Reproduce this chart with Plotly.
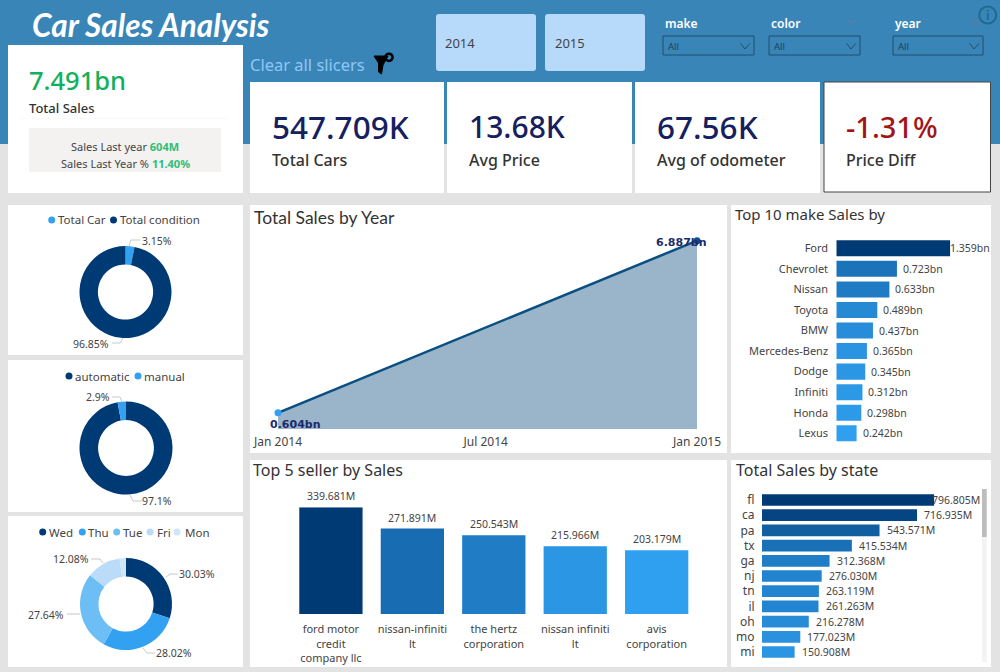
#!/usr/bin/env python3
"""Car Sales Analysis dashboard, drawn as one Plotly figure on a pixel grid."""

import plotly.graph_objects as go

W, H = 1000, 672

# ─── Data ─────────────────────────────────────────────
condition_labels = ["Total Car", "Total condition"]
condition_values = [3.15, 96.85]
transmission_labels = ["automatic", "manual"]
transmission_values = [97.1, 2.9]
weekday_labels = ["Wed", "Thu", "Tue", "Fri", "Mon"]
weekday_values = [30.03, 28.02, 27.64, 12.08, 2.23]

year_dates = ["2014-01-01", "2015-01-01"]
year_sales = [0.604, 6.887]
year_ticks = ["2014-01-01", "2014-07-01", "2015-01-01"]
year_tick_labels = ["Jan 2014", "Jul 2014", "Jan 2015"]

make_names = ["Ford", "Chevrolet", "Nissan", "Toyota", "BMW",
              "Mercedes-Benz", "Dodge", "Infiniti", "Honda", "Lexus"]
make_sales = [1.359, 0.723, 0.633, 0.489, 0.437, 0.365, 0.345, 0.312, 0.298, 0.242]

seller_names = ["ford motor<br>credit<br>company llc", "nissan-infiniti<br>lt",
                "the hertz<br>corporation", "nissan infiniti<br>lt", "avis<br>corporation"]
seller_sales = [339.681, 271.891, 250.543, 215.966, 203.179]

state_names = ["fl", "ca", "pa", "tx", "ga", "nj", "tn", "il", "oh", "mo", "mi"]
state_sales = [796.805, 716.935, 543.571, 415.534, 312.368, 276.030,
               263.119, 261.263, 216.278, 177.023, 150.908]

# ─── Colours / fonts ──────────────────────────────────
BLUE_HEADER = "#3A85B7"
PAGE = "#E3E3E3"
DARK = "#003A75"
MID = "#33A1F2"
NAVY = "#15205E"
GREEN = "#12B05C"
TEXT = "#444444"
SANS = "Noto Sans"
TITLE = "Lato"
RAMP = [[0, "#2F9FEF"], [1, DARK]]

shapes = []
annotations = []


def px(x):
    return x / W


def py(y):
    return 1 - y / H


def rect(x0, y0, x1, y1, fill, line=None, width=1, layer="below"):
    shapes.append(dict(type="rect", xref="paper", yref="paper", layer=layer,
                       x0=px(x0), x1=px(x1), y0=py(y0), y1=py(y1), fillcolor=fill,
                       line=dict(color=line or fill, width=width if line else 0)))


def round_rect(x0, y0, x1, y1, r, fill):
    # paper coordinates run bottom-up, so the path is flipped through py()
    p = (f"M{px(x0 + r)},{py(y0)} L{px(x1 - r)},{py(y0)} Q{px(x1)},{py(y0)} {px(x1)},{py(y0 + r)} "
         f"L{px(x1)},{py(y1 - r)} Q{px(x1)},{py(y1)} {px(x1 - r)},{py(y1)} "
         f"L{px(x0 + r)},{py(y1)} Q{px(x0)},{py(y1)} {px(x0)},{py(y1 - r)} "
         f"L{px(x0)},{py(y0 + r)} Q{px(x0)},{py(y0)} {px(x0 + r)},{py(y0)} Z")
    shapes.append(dict(type="path", xref="paper", yref="paper", layer="below", path=p,
                       fillcolor=fill, line=dict(width=0)))


def poly(points, color, width=1, fill=None, close=False):
    p = "M" + " L".join(f"{px(x)},{py(y)}" for x, y in points) + (" Z" if close else "")
    shapes.append(dict(type="path", xref="paper", yref="paper", layer="above", path=p,
                       fillcolor=fill or "rgba(0,0,0,0)", line=dict(color=color, width=width)))


def dot(x, y, r, fill, line=None, width=0):
    shapes.append(dict(type="circle", xref="paper", yref="paper", layer="above",
                       x0=px(x - r), x1=px(x + r), y0=py(y - r), y1=py(y + r),
                       fillcolor=fill, line=dict(color=line or fill, width=width)))


def label(x, y, text, size=11, color=TEXT, anchor="left", family=SANS, weight=None, style=None):
    font = dict(size=size, color=color, family=family)
    if weight:
        font["weight"] = weight
    if style:
        font["style"] = style
    annotations.append(dict(xref="paper", yref="paper", x=px(x), y=py(y), text=text,
                            xanchor=anchor, yanchor="middle", showarrow=False,
                            borderpad=0, borderwidth=0, font=font))


def domain_x(x0, x1):
    return [px(x0), px(x1)]


def domain_y(top, bottom):
    return [py(bottom), py(top)]


# ─── Page furniture ───────────────────────────────────
rect(0, 0, W, 144, BLUE_HEADER)
rect(8, 45, 243, 193, "white")
rect(250, 82, 444, 193, "white")
rect(447, 82, 632, 193, "white")
rect(635, 82, 820, 193, "white")
rect(824, 82, 990.5, 192, "white", line="#444444", width=1)
rect(29, 128, 221, 172, "#F3F2F1")
rect(20, 118.5, 228, 119, "#F4F4F4")

for x0, y0, x1, y1 in [(8, 205, 243, 355), (8, 360, 243, 512), (8, 516, 243, 667),
                       (250, 205, 727, 453), (250, 460, 727, 667),
                       (731, 205, 991, 453), (731, 460, 991, 667)]:
    rect(x0, y0, x1, y1, "white")

round_rect(436, 14, 536, 71, 3, "#B8DAFA")
round_rect(545, 14, 645, 71, 3, "#B8DAFA")
label(445, 43, "2014", 13, "#444444")
label(555, 43, "2015", 13, "#444444")

label(32, 25, "Car Sales Analysis", 31.5, "white", family=TITLE, weight=700, style="italic")
label(250, 64, "Clear all slicers", 16.5, "#8FC7F5")
poly([(374, 56), (388, 56), (383, 65), (381.5, 74), (378.5, 72), (378.5, 63)], "black", 1, "black", True)
dot(389, 57.3, 3.6, "rgba(0,0,0,0)", "black", 2.5)

dot(987.7, 15, 8.5, "rgba(0,0,0,0)", "#1E6A94", 2)
label(987.7, 15, "i", 12, "#1E6A94", "center", weight=700)

for name, x0, x1 in [("make", 663, 754), ("color", 769, 860), ("year", 893, 983)]:
    label(x0 + 2, 23.5, name, 12, "white", weight=600)
    rect(x0, 36, x1, 55, "rgba(0,0,0,0)", line="#1F4F6E", width=1)
    label(x0 + 5, 46.5, "All", 9.5, "#1F3F5E")
    poly([(x1 - 13.5, 43.3), (x1 - 9, 49), (x1 - 4, 43.3)], "#1F4F6E", 1)
poly([(848, 20), (852, 23.5), (856, 20)], "#6A7F94", 1)
poly([(972, 20), (975.5, 23.5), (979, 20)], "#7A7288", 1)

# ─── KPI cards ────────────────────────────────────────
label(29, 80, "7.491bn", 25.5, GREEN, weight=500)
label(29, 108, "Total Sales", 13, "#333333", weight=500)
label(125, 146, "Sales Last year <b style='color:#2CBF78'>604M</b>", 11, TEXT, "center")
label(125, 163, "Sales Last Year % <b style='color:#2CBF78'>11.40%</b>", 11, TEXT, "center")
for x, value, name, colour, size in [(272, "547.709K", "Total Cars", NAVY, 31.5),
                                     (469, "13.68K", "Avg Price", NAVY, 30),
                                     (657, "67.56K", "Avg of odometer", NAVY, 31.5),
                                     (846, "-1.31%", "Price Diff", "#A31515", 29)]:
    label(x, 126.5, value, size, colour, weight=500)
    label(x, 160, name, 16, "#333333", weight=500)

# ─── Panel titles ─────────────────────────────────────
label(254, 217, "Total Sales by Year", 17.5, "#333333", family=TITLE)
label(735, 214, "Top 10 make Sales by", 15, "#333333")
label(253, 470, "Top 5 seller by Sales", 16, "#333333")
label(736, 470, "Total Sales by state", 16, "#333333")

fig = go.Figure()


# ─── Donuts ───────────────────────────────────────────
def donut(labels, values, colours, cx, cy, r):
    fig.add_trace(go.Pie(labels=labels, values=values, hole=0.6, sort=False,
                         direction="clockwise", rotation=0, textinfo="none",
                         marker=dict(colors=colours, line=dict(width=0)),
                         domain=dict(x=domain_x(cx - r, cx + r), y=domain_y(cy - r, cy + r)),
                         showlegend=False))


donut(condition_labels, condition_values, [MID, DARK], 125.5, 292, 46)
donut(transmission_labels, transmission_values, [DARK, MID], 126, 448, 46.5)
donut(weekday_labels, weekday_values, [DARK, MID, "#6CBEF5", "#BBDCF8", "#CFE6F8"], 126, 604, 46)

# hand legends, the library one can't sit inside a card per pie
for x, y, colour, x_text, text in [
    (51.7, 220, MID, 58, condition_labels[0]), (113.5, 220, DARK, 120, condition_labels[1]),
    (69, 376, DARK, 75, transmission_labels[0]), (138, 376, MID, 144, transmission_labels[1]),
    (42.7, 532, DARK, 49, weekday_labels[0]), (82.3, 532, MID, 88, weekday_labels[1]),
    (116.7, 532, "#6CBEF5", 123, weekday_labels[2]), (150, 532, "#BBDCF8", 157, weekday_labels[3]),
    (177, 532, "#CFE6F8", 185, weekday_labels[4]),
]:
    dot(x, y, 3.5, colour)
    label(x_text, y, text, 11.5)

LEADER = "#C8C8C8"
for x, y, text, pts in [
    (157, 241, "3.15%", [(129, 246), (131, 240), (140, 240)]),
    (91, 344, "96.85%", [(112, 343), (120, 343), (123, 338)]),
    (98, 397, "2.9%", [(112, 397), (120, 397), (122, 402)]),
    (157, 501, "97.1%", [(130, 495), (133, 501), (142, 501)]),
    (197, 574, "30.03%", [(166, 577), (170, 574), (178, 574)]),
    (174, 653, "28.02%", [(143, 648), (147, 653), (155, 653)]),
    (46, 615, "27.64%", [(67, 614), (80, 614)]),
    (71, 559, "12.08%", [(91, 559), (100, 559), (103, 563)]),
]:
    label(x, y, text, 10.5, TEXT, "center")
    poly(pts, LEADER, 1)

# ─── Total Sales by Year ──────────────────────────────
fig.add_trace(go.Scatter(x=year_dates, y=year_sales, mode="lines+markers", fill="tozeroy",
                         fillcolor="rgba(2,68,120,0.4)", line=dict(color="#0B4F80", width=2.5),
                         marker=dict(color=[MID, "#0F4C8C"], size=7), cliponaxis=False,
                         showlegend=False, xaxis="x", yaxis="y"))
for date, value, dx, dy in zip(year_dates, year_sales, [17, -16], [-12, -2]):
    annotations.append(dict(xref="x", yref="y", x=date, y=value, text=f"{value:.3f}bn",
                            xshift=dx, yshift=dy, showarrow=False,
                            font=dict(size=11, color="#1C2A6B", family="DejaVu Sans", weight=700)))


# ─── Bars ─────────────────────────────────────────────
def hbars(names, values, axis, unit_fmt, x0, x1, top, bottom, cmin, shifts, gap, tick_size, tick_len):
    fig.add_trace(go.Bar(y=names, x=values, orientation="h", width=1 - gap,
                         marker=dict(color=values, colorscale=RAMP, cmin=cmin, cmax=max(values),
                                     line=dict(width=0)),
                         cliponaxis=False, showlegend=False,
                         xaxis=f"x{axis}", yaxis=f"y{axis}"))
    fig.update_layout({
        f"xaxis{axis}": dict(domain=domain_x(x0, x1), range=[0, max(values)], anchor=f"y{axis}",
                             visible=False, automargin=False),
        f"yaxis{axis}": dict(domain=domain_y(top, bottom), anchor=f"x{axis}", type="category",
                             range=[len(names) - 0.5, -0.5], showgrid=False, zeroline=False,
                             showline=False, ticks="outside", ticklen=tick_len, automargin=False,
                             tickcolor="rgba(0,0,0,0)",
                             tickfont=dict(size=tick_size, color=TEXT, family=SANS)),
    })
    for name, value, shift in zip(names, values, shifts):
        annotations.append(dict(xref=f"x{axis}", yref=f"y{axis}", x=value, y=name,
                                text=unit_fmt.format(value), xanchor="left", xshift=shift,
                                showarrow=False, font=dict(size=10.5, color=TEXT, family=SANS)))


hbars(make_names, make_sales, 2, "{:.3f}bn", 836.3, 950.3, 238, 443.6, 0.242,
      [-2] + [4] * 9, 0.22, 11, 5)
hbars(state_names, state_sales, 3, "{:.3f}M", 762, 934.3, 492.4, 659.6, 80,
      [-4] + [5] * 10, 0.23, 12, 4)

fig.add_trace(go.Bar(x=seller_names, y=seller_sales, width=0.777,
                     marker=dict(color=seller_sales, colorscale=RAMP, line=dict(width=0)),
                     cliponaxis=False, showlegend=False, xaxis="x4", yaxis="y4"))
for name, value in zip(seller_names, seller_sales):
    annotations.append(dict(xref="x4", yref="y4", x=name, y=value, text=f"{value:.3f}M",
                            yanchor="middle", yshift=11, showarrow=False,
                            font=dict(size=10.5, color=TEXT, family=SANS)))

# state list scrollbar
rect(982, 489, 986.7, 662, "#F3F3F3", layer="above")
rect(982, 489, 986.7, 537, "#BDBDBD", layer="above")

fig.update_layout(
    template="none",
    width=W, height=H, margin=dict(l=0, r=0, t=0, b=0, pad=0), autosize=False,
    paper_bgcolor=PAGE, plot_bgcolor="rgba(0,0,0,0)", showlegend=False,
    xaxis=dict(domain=domain_x(278, 697), type="date", range=[year_dates[0], year_dates[1]],
               tickmode="array", tickvals=year_ticks, ticktext=year_tick_labels, automargin=False,
               showgrid=False, zeroline=False, showline=False, ticks="outside", ticklen=1,
               tickcolor="rgba(0,0,0,0)", tickfont=dict(size=12, color=TEXT, family=SANS)),
    yaxis=dict(domain=domain_y(240.7, 429.3), range=[0, max(year_sales)], visible=False,
               automargin=False),
    xaxis4=dict(domain=domain_x(290.2, 697.4), anchor="y4", type="category", showgrid=False,
                zeroline=False, showline=False, ticks="outside", ticklen=5, automargin=False,
                tickcolor="rgba(0,0,0,0)", tickangle=0,
                tickfont=dict(size=11, color=TEXT, family=SANS)),
    yaxis4=dict(domain=domain_y(507.3, 614), anchor="x4", range=[0, max(seller_sales)], visible=False,
                automargin=False),
    shapes=shapes,
    annotations=annotations,
)

fig.write_html("out.html", config={"displayModeBar": False},
               post_script="document.body.style.margin='0';")
